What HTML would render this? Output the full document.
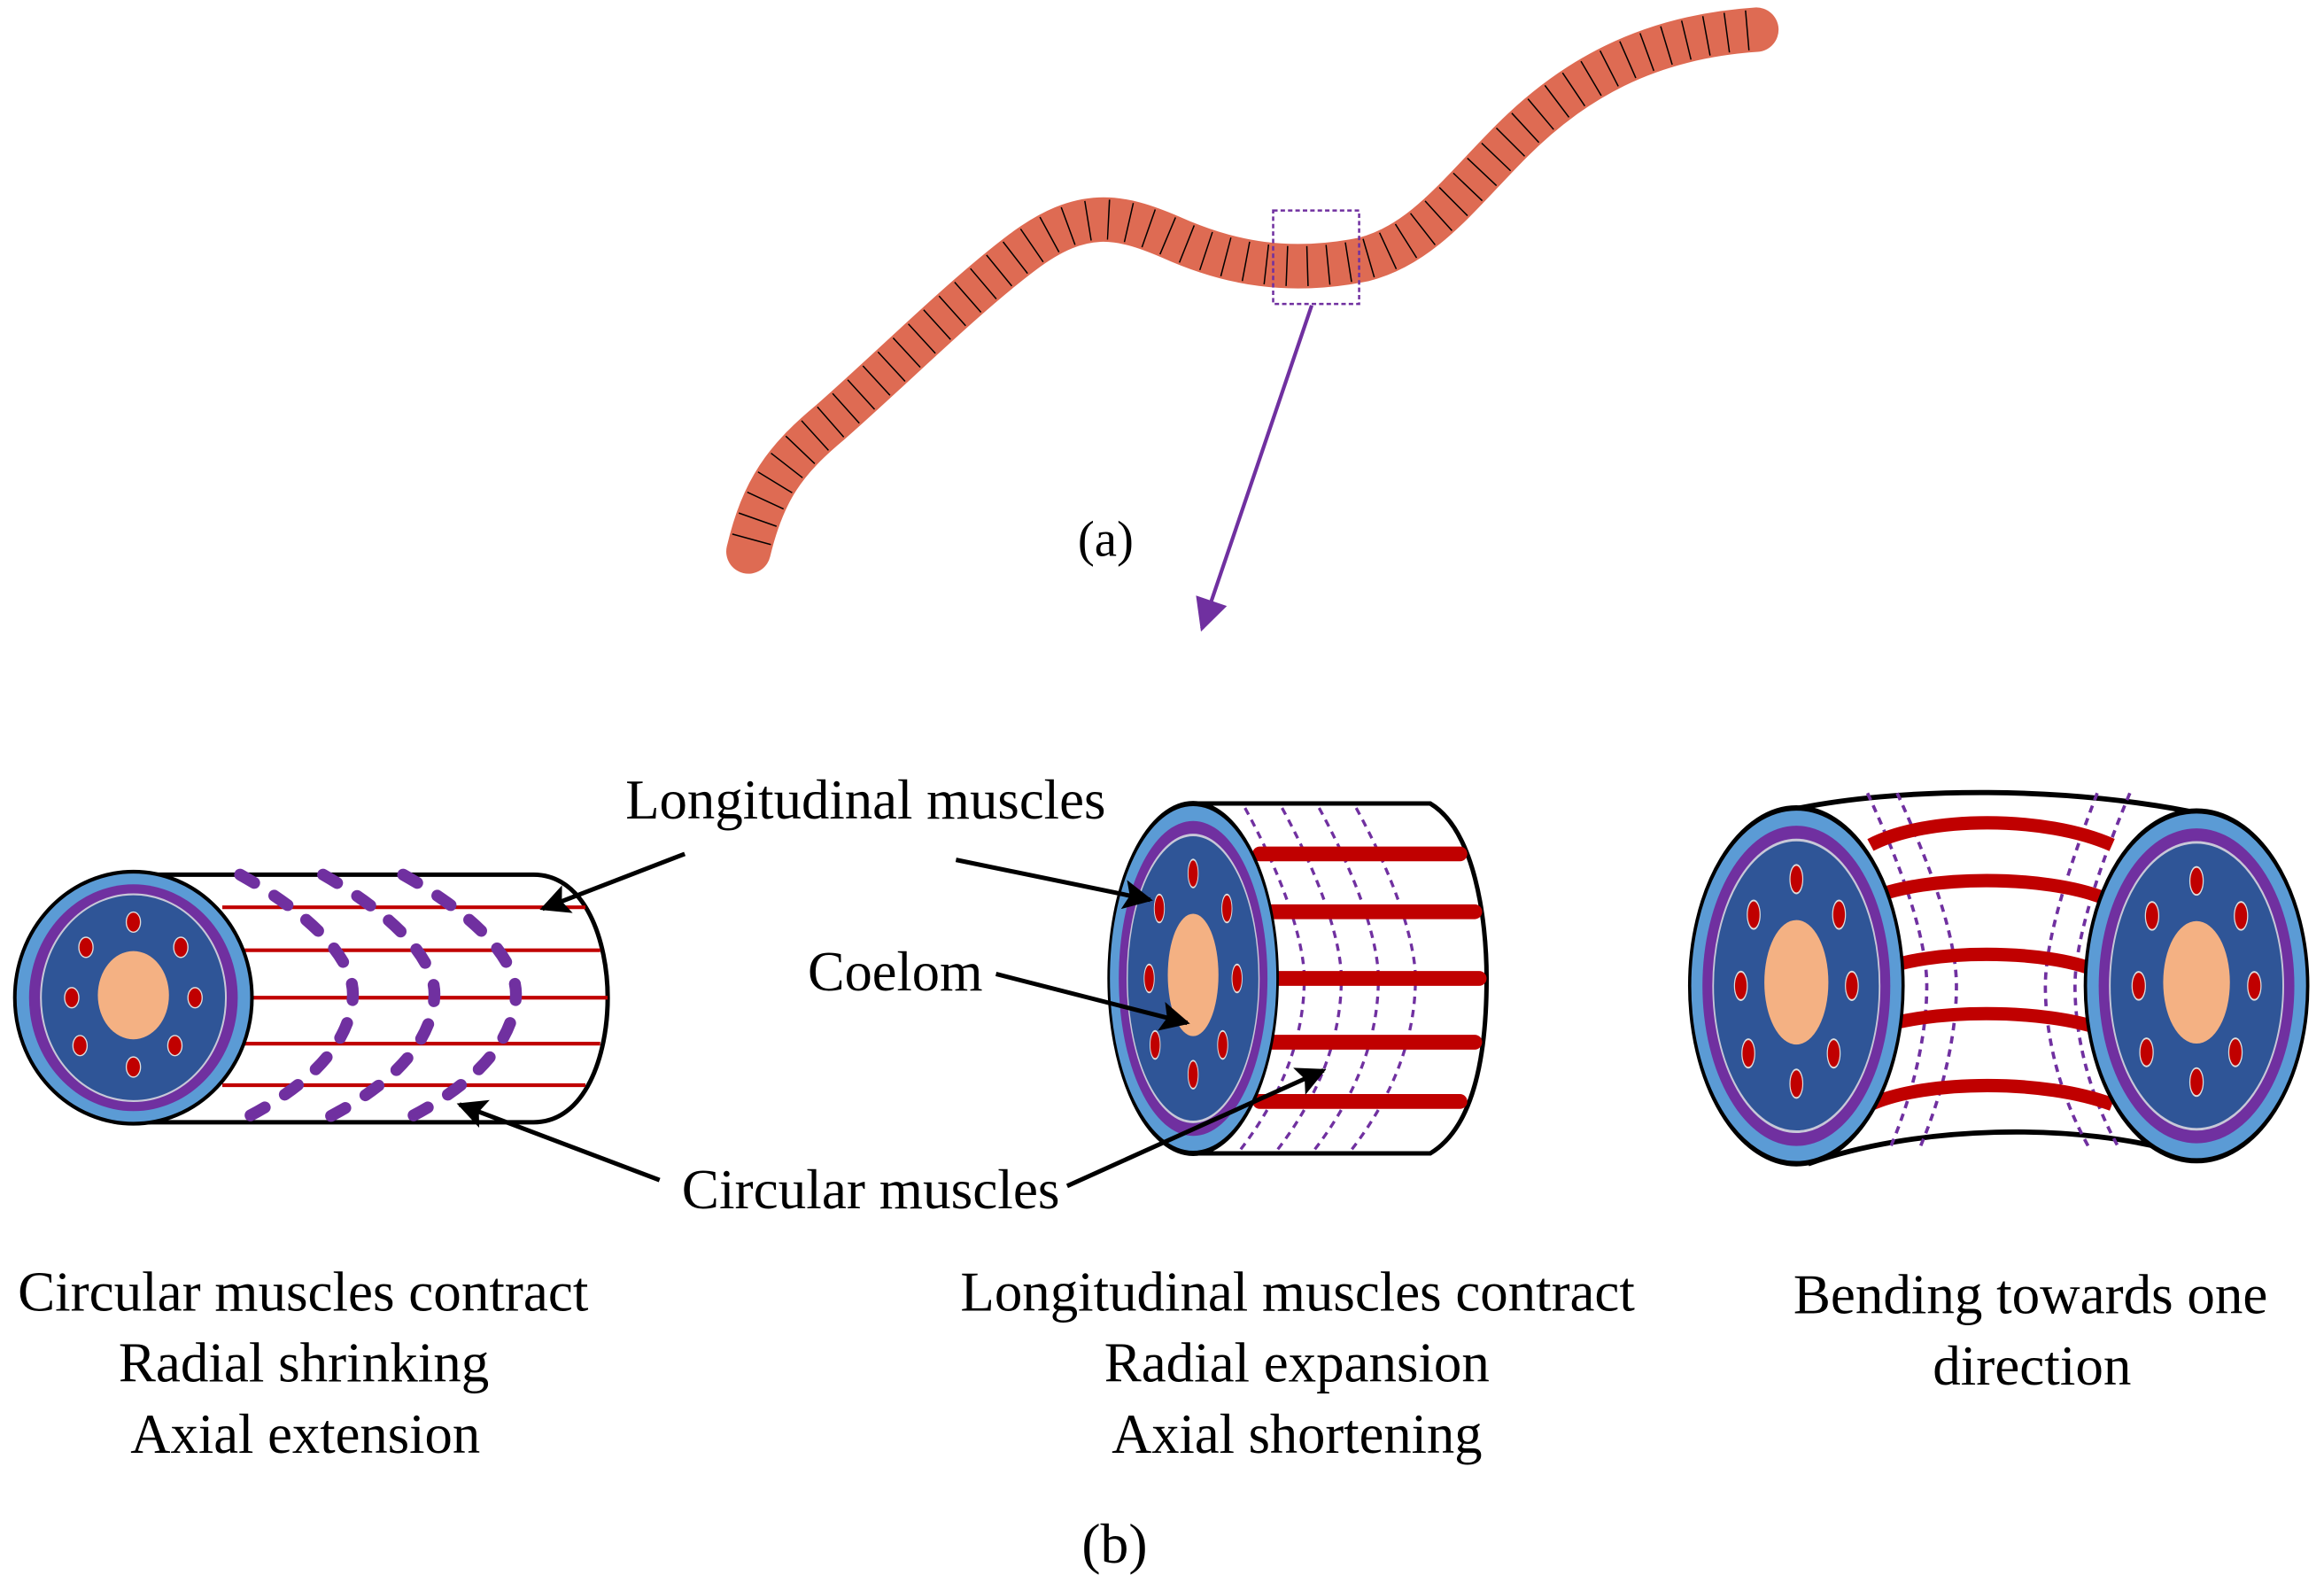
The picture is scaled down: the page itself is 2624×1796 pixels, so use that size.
<!DOCTYPE html>
<html><head><meta charset="utf-8"><style>html,body{margin:0;padding:0;background:#fff}svg{display:block}</style></head>
<body>
<svg width="2624" height="1796" viewBox="0 0 1568 1073.2" xmlns="http://www.w3.org/2000/svg" font-family="'Liberation Serif', serif">
<defs>
<marker id="ap" viewBox="0 0 10 10" refX="9" refY="5" markerWidth="26" markerHeight="22" orient="auto" markerUnits="userSpaceOnUse"><path d="M0,0 L10,5 L0,10 z" fill="#7030a0"/></marker>
<marker id="abk" viewBox="0 0 10 10" refX="9" refY="5" markerWidth="26" markerHeight="20" orient="auto" markerUnits="userSpaceOnUse"><path d="M0,0 L10,5 L0,10 L2,5 z" fill="#000"/></marker>
<g id="disc">
<ellipse cx="0" cy="0" rx="1" ry="1" fill="#5b9bd5" stroke="#000" stroke-width="0.03"/>
<ellipse cx="0" cy="0" rx="0.88" ry="0.9" fill="#7030a0"/>
<ellipse cx="0" cy="0" rx="0.78" ry="0.82" fill="#2f5597" stroke="#c8c8d8" stroke-width="0.015"/>
<ellipse cx="0" cy="-0.02" rx="0.3" ry="0.35" fill="#f4b183"/>
<g fill="#c00000" stroke="#ddd" stroke-width="0.01">
<ellipse cx="0" cy="-0.6" rx="0.06" ry="0.08"/><ellipse cx="0" cy="0.55" rx="0.06" ry="0.08"/>
<ellipse cx="-0.4" cy="-0.4" rx="0.06" ry="0.08"/><ellipse cx="0.4" cy="-0.4" rx="0.06" ry="0.08"/>
<ellipse cx="-0.52" cy="0" rx="0.06" ry="0.08"/><ellipse cx="0.52" cy="0" rx="0.06" ry="0.08"/>
<ellipse cx="-0.45" cy="0.38" rx="0.06" ry="0.08"/><ellipse cx="0.35" cy="0.38" rx="0.06" ry="0.08"/>
</g>
</g>
</defs>

<!-- worm -->
<path d="M505,372 C515,330 530,310 560,285 C600,250 650,200 690,170 C730,140 755,145 790,160 C830,178 870,185 920,175 C960,165 985,130 1020,95 C1060,55 1110,25 1185,20"
 fill="none" stroke="#de6b53" stroke-width="30" stroke-linecap="round"/>
<path d="M505,372 C515,330 530,310 560,285 C600,250 650,200 690,170 C730,140 755,145 790,160 C830,178 870,185 920,175 C960,165 985,130 1020,95 C1060,55 1110,25 1185,20"
 fill="none" stroke="#000" stroke-width="27" stroke-dasharray="0.9 13" stroke-dashoffset="-8"/>
<rect x="859" y="142" width="58" height="63" fill="none" stroke="#7030a0" stroke-width="1.5" stroke-dasharray="3 2"/>
<line x1="885" y1="206" x2="811" y2="424" stroke="#7030a0" stroke-width="2.5" marker-end="url(#ap)"/>
<text x="746" y="375" font-size="34" text-anchor="middle">(a)</text>

<!-- left cylinder -->
<path d="M90,590 L360,590 C395,590 410,635 410,673 C410,712 395,757 360,757 L90,757" fill="#fff" stroke="#000" stroke-width="3"/>
<g stroke="#c00000" stroke-width="2.5">
<line x1="150" y1="612" x2="395" y2="612"/><line x1="165" y1="641" x2="405" y2="641"/>
<line x1="168" y1="673" x2="410" y2="673"/><line x1="165" y1="704" x2="405" y2="704"/><line x1="150" y1="732" x2="395" y2="732"/>
</g>
<g fill="none" stroke="#7030a0" stroke-width="8" stroke-linecap="round" stroke-dasharray="11 16">
<path d="M162,590 C215,620 240,650 238,673 C236,700 215,730 160,757"/>
<path d="M218,590 C270,620 295,650 293,673 C291,700 270,730 215,757"/>
<path d="M272,590 C325,620 350,650 348,673 C346,700 325,730 270,757"/>
</g>
<use href="#disc" transform="translate(90,673) scale(80,85)"/>

<!-- middle cylinder -->
<path d="M805,542 L965,542 C995,560 1003,620 1003,660 C1003,710 995,760 965,778 L805,778" fill="#fff" stroke="#000" stroke-width="3"/>
<g fill="none" stroke="#7030a0" stroke-width="2" stroke-dasharray="5 4">
<path d="M840,545 C870,600 880,640 880,660 C880,700 865,740 835,778"/>
<path d="M865,545 C895,600 905,640 905,660 C905,700 890,740 860,778"/>
<path d="M890,545 C920,600 930,640 930,660 C930,700 915,740 885,778"/>
<path d="M915,545 C945,600 955,640 955,660 C955,700 940,740 910,778"/>
</g>
<g stroke="#c00000" stroke-width="10" stroke-linecap="round">
<line x1="850" y1="576" x2="985" y2="576"/><line x1="850" y1="615" x2="995" y2="615"/>
<line x1="850" y1="660" x2="998" y2="660"/><line x1="850" y1="703" x2="995" y2="703"/><line x1="850" y1="743" x2="985" y2="743"/>
</g>
<use href="#disc" transform="translate(805,660) scale(57,118)"/>

<!-- right bent -->
<path d="M1205,547 C1280,530 1400,530 1490,550 L1480,780 C1400,755 1290,760 1220,785 Z" fill="#fff"/>
<path d="M1205,547 C1280,530 1400,530 1490,550" fill="none" stroke="#000" stroke-width="3.5"/>
<path d="M1220,785 C1290,760 1400,755 1480,780" fill="none" stroke="#000" stroke-width="3.5"/>
<g fill="none" stroke="#7030a0" stroke-width="2.2" stroke-dasharray="5 4">
<path d="M1260,535 C1290,600 1300,640 1300,665 C1300,700 1290,740 1275,775"/>
<path d="M1280,535 C1310,600 1320,640 1320,665 C1320,700 1310,740 1295,775"/>
<path d="M1415,535 C1390,600 1380,640 1380,665 C1380,700 1390,740 1410,775"/>
<path d="M1437,535 C1410,600 1400,640 1400,665 C1400,700 1410,740 1430,775"/>
</g>
<g fill="none" stroke="#c00000" stroke-width="9">
<path d="M1262,570 C1300,550 1380,550 1425,570"/>
<path d="M1262,606 C1300,590 1380,590 1420,606"/>
<path d="M1268,655 C1300,640 1380,640 1415,655"/>
<path d="M1262,695 C1300,680 1380,680 1420,695"/>
<path d="M1262,745 C1300,728 1380,728 1425,745"/>
</g>
<use href="#disc" transform="translate(1212,665) scale(72,120)"/>
<use href="#disc" transform="translate(1482,665) scale(75,118)"/>

<!-- labels and arrows -->
<g font-size="38">
<text x="422" y="552" textLength="324" lengthAdjust="spacingAndGlyphs">Longitudinal muscles</text>
<text x="545" y="668" textLength="118" lengthAdjust="spacingAndGlyphs">Coelom</text>
<text x="460" y="815" textLength="255" lengthAdjust="spacingAndGlyphs">Circular muscles</text>
</g>
<g stroke="#000" stroke-width="3" fill="none">
<line x1="462" y1="576" x2="366" y2="613" marker-end="url(#abk)"/>
<line x1="645" y1="580" x2="776" y2="607" marker-end="url(#abk)"/>
<line x1="672" y1="657" x2="801" y2="690" marker-end="url(#abk)"/>
<line x1="445" y1="796" x2="310" y2="745" marker-end="url(#abk)"/>
<line x1="720" y1="800" x2="893" y2="722" marker-end="url(#abk)"/>
</g>

<g font-size="38" lengthAdjust="spacingAndGlyphs">
<text x="12" y="884" textLength="385" lengthAdjust="spacingAndGlyphs">Circular muscles contract</text>
<text x="80" y="932" textLength="250" lengthAdjust="spacingAndGlyphs">Radial shrinking</text>
<text x="88" y="980" textLength="236" lengthAdjust="spacingAndGlyphs">Axial extension</text>
<text x="648" y="884" textLength="455" lengthAdjust="spacingAndGlyphs">Longitudinal muscles contract</text>
<text x="745" y="932" textLength="260" lengthAdjust="spacingAndGlyphs">Radial expansion</text>
<text x="750" y="980" textLength="250" lengthAdjust="spacingAndGlyphs">Axial shortening</text>
<text x="1210" y="886" textLength="320" lengthAdjust="spacingAndGlyphs">Bending towards one</text>
<text x="1304" y="934" textLength="134" lengthAdjust="spacingAndGlyphs">direction</text>
<text x="752" y="1054" text-anchor="middle">(b)</text>
</g>
</svg>
</body></html>
